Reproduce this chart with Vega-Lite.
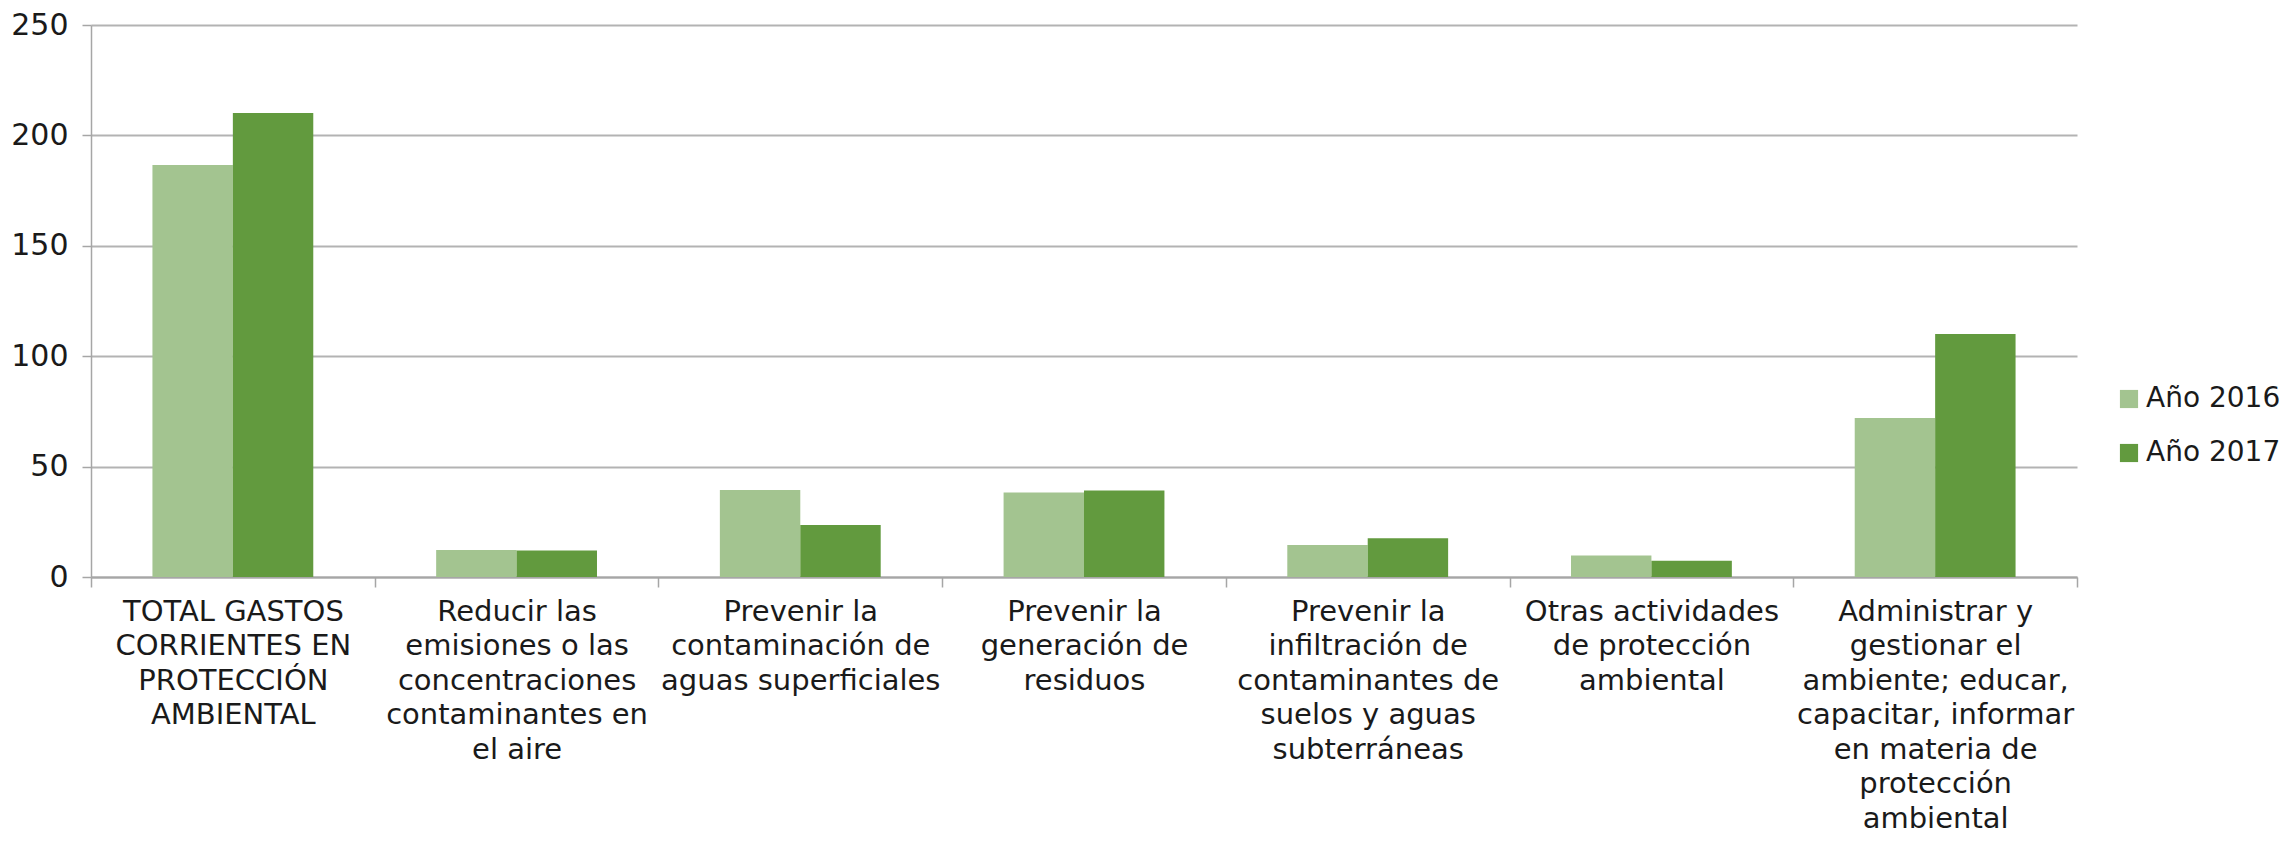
{
  "$schema": "https://vega.github.io/schema/vega-lite/v6.json",
  "autosize": {"type": "none"},
  "width": 1986,
  "height": 552,
  "padding": {"left": 91, "top": 25, "right": 218, "bottom": 265},
  "background": "#ffffff",
  "config": {
    "font": "DejaVu Sans",
    "view": {"stroke": null}
  },
  "data": {
    "values": [
      {"cat": "TOTAL GASTOS|CORRIENTES EN|PROTECCIÓN|AMBIENTAL", "year": "Año 2016", "value": 186.6},
      {"cat": "TOTAL GASTOS|CORRIENTES EN|PROTECCIÓN|AMBIENTAL", "year": "Año 2017", "value": 210.2},
      {"cat": "Reducir las|emisiones o las|concentraciones|contaminantes en|el aire", "year": "Año 2016", "value": 12.2},
      {"cat": "Reducir las|emisiones o las|concentraciones|contaminantes en|el aire", "year": "Año 2017", "value": 12.0},
      {"cat": "Prevenir la|contaminación de|aguas superficiales", "year": "Año 2016", "value": 39.4},
      {"cat": "Prevenir la|contaminación de|aguas superficiales", "year": "Año 2017", "value": 23.5},
      {"cat": "Prevenir la|generación de|residuos", "year": "Año 2016", "value": 38.3},
      {"cat": "Prevenir la|generación de|residuos", "year": "Año 2017", "value": 39.2},
      {"cat": "Prevenir la|infiltración de|contaminantes de|suelos y aguas|subterráneas", "year": "Año 2016", "value": 14.5},
      {"cat": "Prevenir la|infiltración de|contaminantes de|suelos y aguas|subterráneas", "year": "Año 2017", "value": 17.6},
      {"cat": "Otras actividades|de protección|ambiental", "year": "Año 2016", "value": 9.7},
      {"cat": "Otras actividades|de protección|ambiental", "year": "Año 2017", "value": 7.4},
      {"cat": "Administrar y|gestionar el|ambiente; educar,|capacitar, informar|en materia de|protección|ambiental", "year": "Año 2016", "value": 72.0},
      {"cat": "Administrar y|gestionar el|ambiente; educar,|capacitar, informar|en materia de|protección|ambiental", "year": "Año 2017", "value": 110.0}
    ]
  },
  "mark": {"type": "bar"},
  "encoding": {
    "x": {
      "field": "cat",
      "type": "nominal",
      "sort": null,
      "scale": {"paddingInner": 0, "paddingOuter": 0},
      "axis": {
        "title": null,
        "labelAngle": 0,
        "labelExpr": "split(datum.label, '|')",
        "labelFontSize": 29,
        "labelLineHeight": 34.5,
        "labelColor": "#1a1a1a",
        "labelPadding": 10,
        "labelLimit": 0,
        "tickBand": "extent",
        "tickSize": 10,
        "tickColor": "#a6a6a6",
        "tickWidth": 1.5,
        "domainColor": "#a6a6a6",
        "domainWidth": 2,
        "grid": false
      }
    },
    "xOffset": {
      "field": "year",
      "type": "nominal",
      "scale": {"paddingInner": 0, "paddingOuter": 0.764}
    },
    "y": {
      "field": "value",
      "type": "quantitative",
      "scale": {"domain": [0, 250], "nice": false},
      "axis": {
        "title": null,
        "values": [0, 50, 100, 150, 200, 250],
        "labelFontSize": 30,
        "labelColor": "#1a1a1a",
        "labelPadding": 14,
        "tickSize": 9,
        "tickColor": "#a6a6a6",
        "tickWidth": 1.5,
        "domainColor": "#a6a6a6",
        "domainWidth": 1.5,
        "gridColor": "#b3b3b3",
        "gridWidth": 2
      }
    },
    "color": {
      "field": "year",
      "type": "nominal",
      "scale": {"domain": ["Año 2016", "Año 2017"], "range": ["#a3c490", "#629a3e"]},
      "legend": {
        "title": null,
        "orient": "none",
        "legendX": 2024,
        "legendY": 360,
        "symbolType": "square",
        "symbolSize": 330,
        "symbolStrokeWidth": 0,
        "labelFontSize": 28,
        "labelColor": "#1a1a1a",
        "labelOffset": 3,
        "labelLimit": 0,
        "rowPadding": 26
      }
    }
  }
}
